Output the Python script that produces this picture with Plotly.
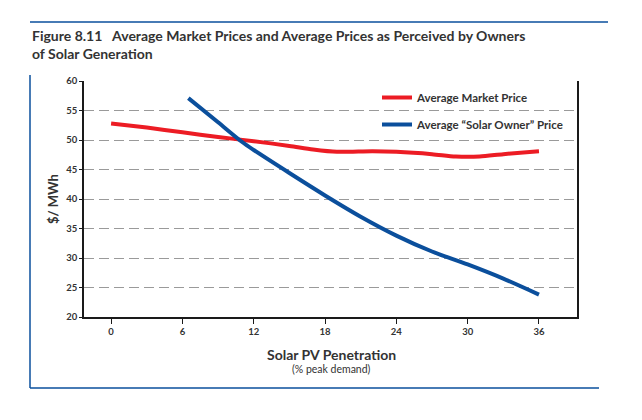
import plotly.graph_objects as go

# Data
market_x = [0, 3, 6, 9, 12, 15, 17, 19, 22, 24, 27, 29, 31, 33, 36]
market_y = [52.8, 52.1, 51.3, 50.5, 49.8, 49.0, 48.4, 48.0, 48.1, 48.0, 47.6, 47.2, 47.2, 47.6, 48.1]
solar_x = [6.5, 9, 11, 12, 15, 18, 21, 24, 27, 30, 33, 36]
solar_y = [57.1, 53.0, 49.7, 48.3, 44.4, 40.6, 37.0, 33.8, 31.1, 28.9, 26.5, 23.8]
x_ticks = [0, 6, 12, 18, 24, 30, 36]
y_ticks = [20, 25, 30, 35, 40, 45, 50, 55, 60]

RED = "#ec1c24"
BLUE = "#0b4f9c"
TXT = "#333333"
RULE = "#0a4f9c"
FONT = "Lato"

fig = go.Figure()
fig.add_trace(go.Scatter(x=market_x, y=market_y, mode="lines", name="<b>Average Market Price</b>",
                         line=dict(color=RED, width=4, shape="spline", smoothing=0.8), legendgroup="a"))
fig.add_trace(go.Scatter(x=solar_x, y=solar_y, mode="lines", name="<b>Average \u201cSolar Owner\u201d Price</b>",
                         line=dict(color=BLUE, width=4, shape="spline", smoothing=0.8), legendgroup="b"))

L, R, T, B = 84, 577, 81, 317
W, H = 642, 420
pw, ph = R - L, B - T

def px(x):
    return (x - L) / pw

def py(y):
    return (B - y) / ph

fig.update_layout(
    width=W, height=H,
    margin=dict(l=L, r=W - R, t=T, b=H - B),
    paper_bgcolor="white", plot_bgcolor="white",
    font=dict(family=FONT, color=TXT),
    showlegend=True,
    legend=dict(x=px(377), y=py(83), xanchor="left", yanchor="top",
                bgcolor="rgba(0,0,0,0)", font=dict(size=11.5, color=TXT, family=FONT),
                tracegroupgap=8, itemwidth=30),
    xaxis=dict(range=[-2.28, 39.2], tickvals=x_ticks, ticktext=[str(v) for v in x_ticks],
               showgrid=False, zeroline=False, showline=True, linecolor="#1a1a1a", linewidth=1.5,
               ticks="outside", ticklen=5, tickcolor="#1a1a1a", tickwidth=1.2,
               tickfont=dict(size=9.5, family=FONT, color=TXT, weight="bold"), fixedrange=True),
    yaxis=dict(range=[20, 60], tickvals=y_ticks, ticktext=[str(v) for v in y_ticks],
               showgrid=True, gridcolor="#9a9a9a", griddash="10px,5px", gridwidth=1,
               zeroline=False, showline=True, linecolor="#1a1a1a", linewidth=1.5, mirror=True,
               ticks="outside", ticklen=3, tickcolor="#1a1a1a", tickwidth=1.2,
               tickfont=dict(size=9.5, family=FONT, color=TXT, weight="bold"), fixedrange=True),
)

annotations = [
    dict(text="<b>Figure 8.11   Average Market Prices and Average Prices as Perceived by Owners</b>",
         x=px(30), y=py(35), xanchor="left", yanchor="middle", font=dict(size=14, color=TXT)),
    dict(text="<b>of Solar Generation</b>",
         x=px(30), y=py(53), xanchor="left", yanchor="middle", font=dict(size=14, color=TXT)),
    dict(text="<b>$/ MWh</b>", textangle=-90, x=px(53), y=py(199), xanchor="center", yanchor="middle",
         font=dict(size=13, color=TXT)),
    dict(text="<b>Solar PV Penetration</b>", x=px(331), y=py(354), xanchor="center", yanchor="middle",
         font=dict(size=14, color=TXT)),
    dict(text="(% peak demand)", x=px(331), y=py(369), xanchor="center", yanchor="middle",
         font=dict(size=10.5, color=TXT)),
]
for a in annotations:
    a.update(xref="paper", yref="paper", showarrow=False)
fig.update_layout(annotations=annotations)

shapes = [
    dict(type="line", x0=px(30), x1=px(608), y0=py(22), y1=py(22)),
    dict(type="line", x0=px(30), x1=px(30), y0=py(75), y1=py(388)),
    dict(type="line", x0=px(30), x1=px(599), y0=py(388), y1=py(388)),
]
for s in shapes:
    s.update(xref="paper", yref="paper", line=dict(color=RULE, width=1.5))
fig.update_layout(shapes=shapes)

fig.write_html("out.html", config={"displayModeBar": False},
               post_script="document.body.style.margin='0';document.body.style.overflow='hidden';")
